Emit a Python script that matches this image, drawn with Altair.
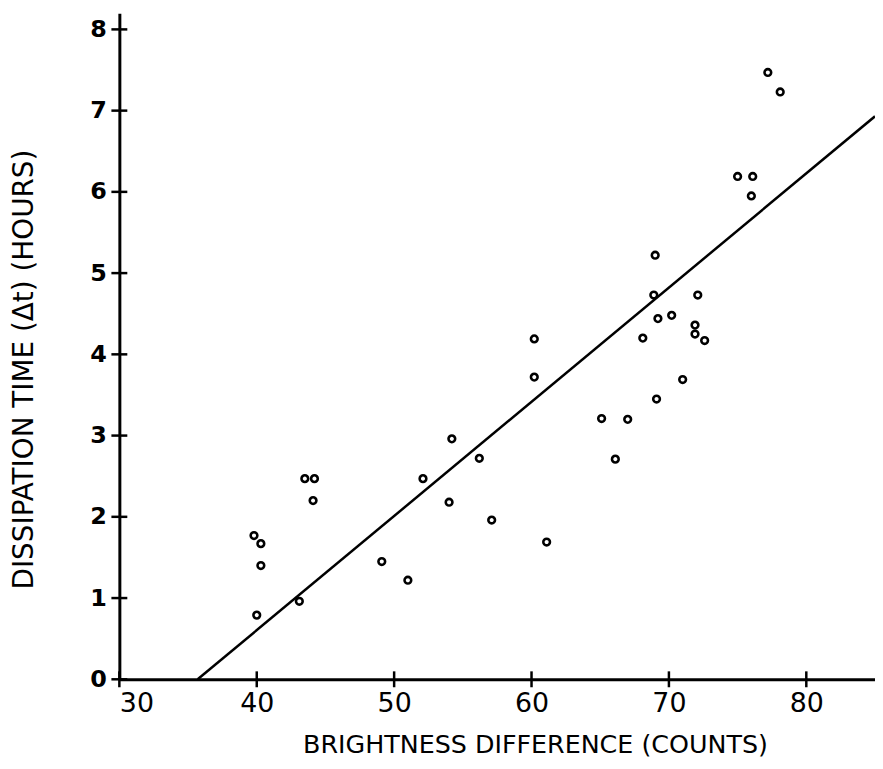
import altair as alt
import pandas as pd

# Observed points: brightness difference (counts) vs dissipation time (hours)
brightness = [39.8, 40.3, 40.3, 40.0, 43.1, 43.5, 44.2, 44.1, 49.1, 51.0,
              52.1, 54.2, 56.2, 54.0, 57.1, 60.2, 60.2, 61.1, 65.1, 67.0,
              66.1, 68.1, 69.0, 68.9, 69.2, 69.1, 70.2, 71.0, 71.9, 71.9,
              72.1, 72.6, 75.0, 76.1, 76.0, 77.2, 78.1]
dissipation = [1.77, 1.67, 1.40, 0.79, 0.96, 2.47, 2.47, 2.20, 1.45, 1.22,
               2.47, 2.96, 2.72, 2.18, 1.96, 4.19, 3.72, 1.69, 3.21, 3.20,
               2.71, 4.20, 5.22, 4.73, 4.44, 3.45, 4.48, 3.69, 4.36, 4.25,
               4.73, 4.17, 6.19, 6.19, 5.95, 7.47, 7.23]

# Fitted line end points as drawn
fit_x = [35.7, 85.0]
fit_y = [0.0, 6.93]

x_ticks = [30, 40, 50, 60, 70, 80]
y_ticks = [0, 1, 2, 3, 4, 5, 6, 7, 8]

pts = pd.DataFrame({"x": brightness, "y": dissipation})
fit = pd.DataFrame({"x": fit_x, "y": fit_y})
xt = pd.DataFrame({"v": x_ticks})
yt = pd.DataFrame({"v": y_ticks})

W = 760
H = 670
xscale = alt.Scale(domain=[30, 85], nice=False, zero=False)
yscale = alt.Scale(domain=[0, 8.2], nice=False, zero=False)

FONT = "DejaVu Sans"

xaxis = alt.Axis(values=x_ticks, ticks=False, grid=False, domainColor="black",
                 domainWidth=3, labelFont=FONT, labelFontSize=27, labelColor="black",
                 labelPadding=11, title="BRIGHTNESS DIFFERENCE (COUNTS)",
                 titleFont=FONT, titleFontSize=25.5, titleFontWeight="normal",
                 titleColor="black", titleX=418, titleY=66, titleAlign="center",
                 titleBaseline="middle", format="d")
yaxis = alt.Axis(values=y_ticks, ticks=False, grid=False, domainColor="black",
                 domainWidth=3, labelFont=FONT, labelFontSize=24, labelFontWeight="bold",
                 labelColor="black", labelPadding=13, title="DISSIPATION TIME (Δt) (HOURS)",
                 titleFont=FONT, titleFontSize=28, titleFontWeight="normal",
                 titleColor="black", titleX=-95, titleY=358, titleAngle=270,
                 titleAlign="center", titleBaseline="middle", format="d")

points = alt.Chart(pts).mark_point(shape="circle", filled=False, size=45,
                                   strokeWidth=2.6, color="black", opacity=1).encode(
    x=alt.X("x:Q", scale=xscale, axis=xaxis),
    y=alt.Y("y:Q", scale=yscale, axis=yaxis),
)

line = alt.Chart(fit).mark_line(color="black", strokeWidth=2.5).encode(
    x=alt.X("x:Q", scale=xscale),
    y=alt.Y("y:Q", scale=yscale),
)

xt_rules = alt.Chart(xt).mark_rule(color="black", strokeWidth=2.5).encode(
    x=alt.X("v:Q", scale=xscale),
    y=alt.value(H - 8),
    y2=alt.value(H + 8),
)

yt_rules = alt.Chart(yt).mark_rule(color="black", strokeWidth=2.5).encode(
    y=alt.Y("v:Q", scale=yscale),
    x=alt.value(-8),
    x2=alt.value(8),
)

chart = alt.layer(line, points, xt_rules, yt_rules).properties(
    width=W, height=H,
    background="white",
    autosize=alt.AutoSizeParams(type="none"),
    padding={"left": 112, "top": 3, "right": 0, "bottom": 80},
).configure_view(strokeWidth=0, stroke="transparent")

chart.save("out.html", embed_options={"renderer": "svg", "actions": False})
